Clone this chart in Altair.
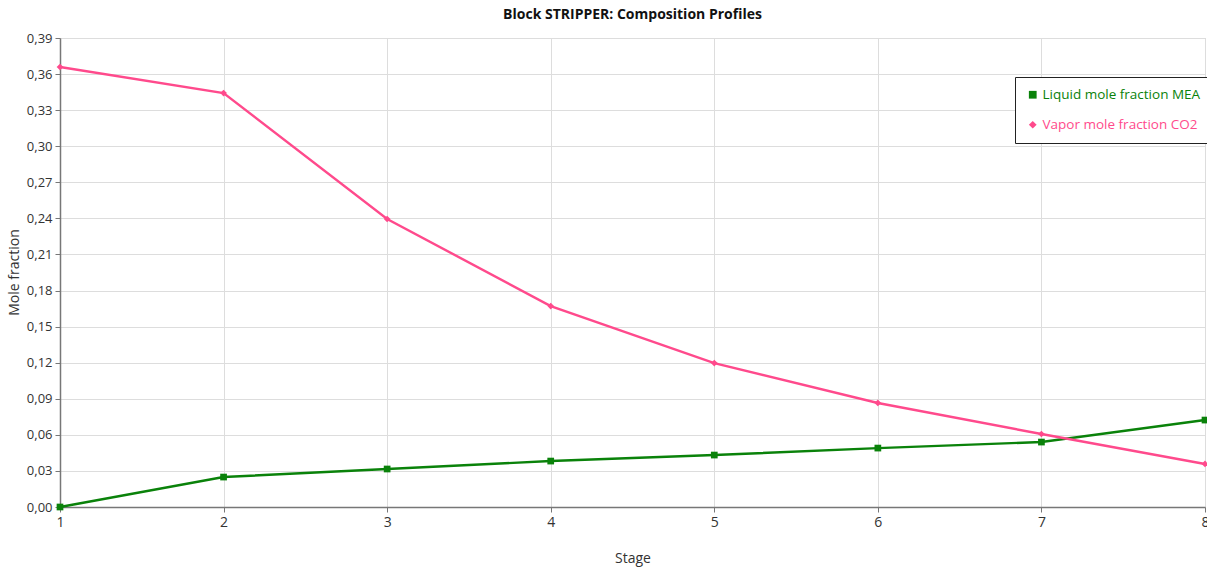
import altair as alt
import pandas as pd

stages = [1, 2, 3, 4, 5, 6, 7, 8]
liquid_mea = [0.0, 0.0249, 0.0316, 0.0382, 0.0432, 0.0490, 0.0540, 0.0723]
vapor_co2 = [0.3659, 0.3442, 0.2395, 0.1671, 0.1197, 0.0865, 0.0607, 0.0358]
series_names = ["Liquid mole fraction MEA", "Vapor mole fraction CO2"]
y_ticks = [round(0.03 * i, 2) for i in range(14)]

rows = []
for s, v in zip(stages, liquid_mea):
    rows.append({"Stage": s, "value": v, "series": series_names[0]})
for s, v in zip(stages, vapor_co2):
    rows.append({"Stage": s, "value": v, "series": series_names[1]})
df = pd.DataFrame(rows)

GREEN = "#0a820a"
PINK = "#ff4a8c"
FONT = "Open Sans"

color_scale = alt.Scale(domain=series_names, range=[GREEN, PINK])
shape_scale = alt.Scale(domain=series_names, range=["square", "diamond"])

legend = alt.Legend(
    title=None, orient="none", legendX=955, legendY=39,
    strokeColor="#222222", fillColor="white",
    padding=11, labelFontSize=13.5, labelFont=FONT, labelLimit=0,
    symbolSize=60, rowPadding=15, symbolStrokeWidth=0, labelOffset=3,
    labelColor={"expr": f"datum.value == '{series_names[0]}' ? '{GREEN}' : '{PINK}'"},
)

x = alt.X("Stage:Q", scale=alt.Scale(domain=[1, 8], nice=False),
          axis=alt.Axis(title="Stage", values=stages, format="d",
                        titlePadding=22))
y = alt.Y("value:Q", scale=alt.Scale(domain=[0, 0.39], nice=False, zero=True),
          axis=alt.Axis(title="Mole fraction", values=y_ticks,
                        labelExpr="replace(format(datum.value, '.2f'), '.', ',')",
                        labelFontSize=13,
                        titleX=-39, titleY=234, titleAnchor="middle"))

base = alt.Chart(df)

lines = base.mark_line(strokeWidth=2.4).encode(
    x=x, y=y,
    color=alt.Color("series:N", scale=color_scale, legend=legend),
    detail="series:N",
)

points = base.mark_point(filled=True, opacity=1, size=45).encode(
    x=x, y=y,
    color=alt.Color("series:N", scale=color_scale, legend=legend),
    shape=alt.Shape("series:N", scale=shape_scale, legend=legend),
)

chart = (lines + points).properties(
    width=1145, height=469,
    title=alt.TitleParams("Block STRIPPER: Composition Profiles", fontSize=14,
                          font=FONT, fontWeight="bold", color="#111111",
                          anchor="middle", offset=10),
    autosize=alt.AutoSizeParams(type="none"),
    padding={"left": 60, "top": 38, "right": 2, "bottom": 60},
).configure_view(
    stroke="#cccccc", strokeWidth=1
).configure_axis(
    labelFont=FONT, titleFont=FONT, labelFontSize=14, titleFontSize=14,
    labelColor="#333333", titleColor="#333333", titleFontWeight="normal",
    gridColor="#dddddd", gridWidth=1, domainColor="#777777", domainWidth=1.5,
    tickColor="#777777", tickSize=5, labelPadding=3,
).configure_axisX(labelFlush=False)

chart.save("out.html", embed_options={"renderer": "svg", "actions": False})
